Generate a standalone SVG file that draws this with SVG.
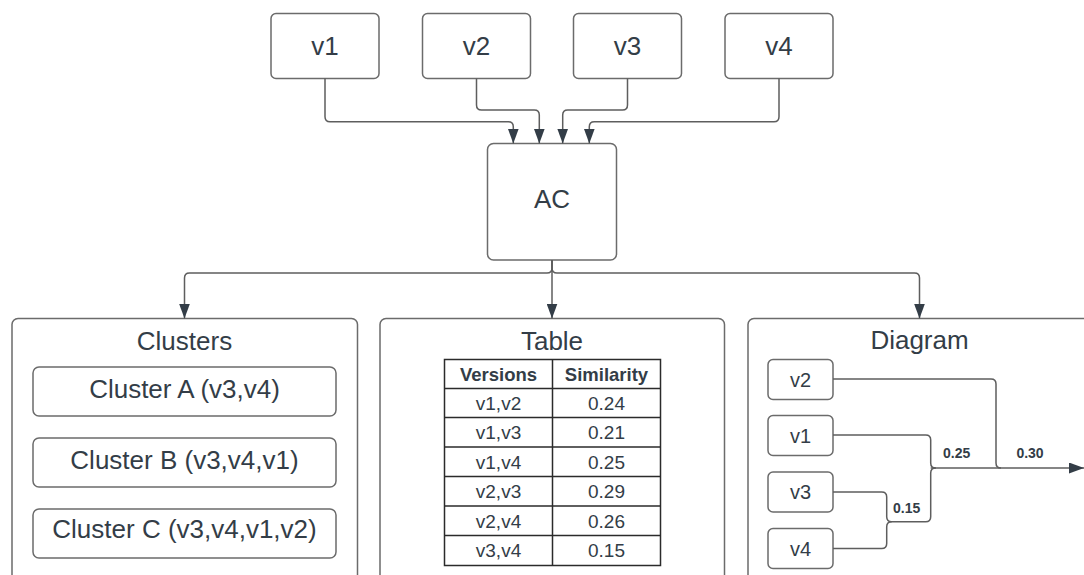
<svg xmlns="http://www.w3.org/2000/svg" width="1084" height="575" viewBox="0 0 1084 575">
  <defs>
    <marker id="arrow" viewBox="0 0 15 11" markerWidth="15" markerHeight="11" refX="15" refY="5.5" orient="auto" markerUnits="userSpaceOnUse">
      <path d="M0,0 L15,5.5 L0,11 Z" fill="#333d47"/>
    </marker>
    <style>
      .box { fill: #ffffff; stroke: #6b6b6b; stroke-width: 1.5; }
      .panel { fill: #ffffff; stroke: #6b6b6b; stroke-width: 1.5; }
      .conn { fill: none; stroke: #5e5e5e; stroke-width: 1.5; }
      .lbl { font-family: "Liberation Sans", Arial, sans-serif; fill: #333d47; text-anchor: middle; }
      .big { font-size: 26px; }
      .mid { font-size: 20px; }
      .cell { font-size: 19px; }
      .head { font-size: 18.5px; font-weight: bold; }
      .tiny { font-size: 14px; font-weight: bold; }
      .grid { fill: none; stroke: #2b2b2b; stroke-width: 1.5; }
    </style>
  </defs>

  <!-- version nodes -->
  <g id="node-v1"><rect class="box" x="271" y="13.5" width="108" height="65" rx="5"/><text class="lbl big" x="325" y="55">v1</text></g>
  <g id="node-v2"><rect class="box" x="422.5" y="13.5" width="108" height="65" rx="5"/><text class="lbl big" x="476.5" y="55">v2</text></g>
  <g id="node-v3"><rect class="box" x="573.5" y="13.5" width="108" height="65" rx="5"/><text class="lbl big" x="627.5" y="55">v3</text></g>
  <g id="node-v4"><rect class="box" x="725" y="13.5" width="108" height="65" rx="5"/><text class="lbl big" x="779" y="55">v4</text></g>

  <!-- AC node -->
  <g id="node-ac"><rect class="box" x="487.5" y="143.5" width="129" height="116.5" rx="6"/><text class="lbl big" x="552" y="207.5">AC</text></g>

  <!-- output panels -->
  <g id="node-clusters">
    <rect class="panel" x="12" y="318.5" width="345.5" height="275" rx="6"/>
    <text class="lbl big" x="184.5" y="349.5">Clusters</text>
    <rect class="box" x="33" y="367" width="303" height="49" rx="6"/>
    <text class="lbl big" x="184.5" y="398">Cluster A (v3,v4)</text>
    <rect class="box" x="33" y="438" width="303" height="49" rx="6"/>
    <text class="lbl big" x="184.5" y="469">Cluster B (v3,v4,v1)</text>
    <rect class="box" x="33" y="509" width="303" height="49" rx="6"/>
    <text class="lbl big" x="184.5" y="538">Cluster C (v3,v4,v1,v2)</text>
  </g>

  <g id="node-table">
    <rect class="panel" x="380" y="318.5" width="344.5" height="275" rx="6"/>
    <text class="lbl big" x="552" y="349.5">Table</text>
    <rect class="grid" x="444.5" y="359.5" width="216" height="206"/>
    <path class="grid" d="M552.5 359.5 V565.5 M444.5 388.5 H660.5 M444.5 417.5 H660.5 M444.5 447 H660.5 M444.5 476.5 H660.5 M444.5 506 H660.5 M444.5 535.5 H660.5"/>
    <text class="lbl head" x="498.5" y="380.5">Versions</text>
    <text class="lbl head" x="606.5" y="380.5">Similarity</text>
    <text class="lbl cell" x="498.5" y="409.5">v1,v2</text><text class="lbl cell" x="606.5" y="409.5">0.24</text>
    <text class="lbl cell" x="498.5" y="439">v1,v3</text><text class="lbl cell" x="606.5" y="439">0.21</text>
    <text class="lbl cell" x="498.5" y="468.5">v1,v4</text><text class="lbl cell" x="606.5" y="468.5">0.25</text>
    <text class="lbl cell" x="498.5" y="498">v2,v3</text><text class="lbl cell" x="606.5" y="498">0.29</text>
    <text class="lbl cell" x="498.5" y="527.5">v2,v4</text><text class="lbl cell" x="606.5" y="527.5">0.26</text>
    <text class="lbl cell" x="498.5" y="557">v3,v4</text><text class="lbl cell" x="606.5" y="557">0.15</text>
  </g>

  <g id="node-diagram">
    <rect class="panel" x="748" y="318.5" width="360" height="275" rx="6"/>
    <text class="lbl big" x="919.5" y="349">Diagram</text>
  </g>

  <!-- dendrogram leaves -->
  <g id="node-d-v2"><rect class="box" x="768" y="359.5" width="65" height="40" rx="5"/><text class="lbl mid" x="800.5" y="386.5">v2</text></g>
  <g id="node-d-v1"><rect class="box" x="768" y="415.5" width="65" height="40" rx="5"/><text class="lbl mid" x="800.5" y="442.5">v1</text></g>
  <g id="node-d-v3"><rect class="box" x="768" y="472" width="65" height="40" rx="5"/><text class="lbl mid" x="800.5" y="499">v3</text></g>
  <g id="node-d-v4"><rect class="box" x="768" y="528.5" width="65" height="40" rx="5"/><text class="lbl mid" x="800.5" y="555.5">v4</text></g>

  <!-- connectors -->
  <g id="connectors">
    <path class="conn" marker-end="url(#arrow)" d="M325 78.5 V116.7 Q325 121.7 330 121.7 H508.3 Q513.3 121.7 513.3 126.7 V143.5"/>
    <path class="conn" marker-end="url(#arrow)" d="M476.5 78.5 V105 Q476.5 110 481.5 110 H534.3 Q539.3 110 539.3 115 V143.5"/>
    <path class="conn" marker-end="url(#arrow)" d="M627.5 78.5 V105 Q627.5 110 622.5 110 H567.7 Q562.7 110 562.7 115 V143.5"/>
    <path class="conn" marker-end="url(#arrow)" d="M779 78.5 V116.7 Q779 121.7 774 121.7 H594.3 Q589.3 121.7 589.3 126.7 V143.5"/>

    <path class="conn" marker-end="url(#arrow)" d="M552 260 V268 Q552 273 547 273 H189.5 Q184.5 273 184.5 278 V318.5"/>
    <path class="conn" marker-end="url(#arrow)" d="M552 260 V318.5" stroke="#333d47"/>
    <path class="conn" marker-end="url(#arrow)" d="M552 260 V268 Q552 273 557 273 H914.5 Q919.5 273 919.5 278 V318.5"/>

    <!-- dendrogram branches -->
    <path class="conn" d="M833 379 H991 Q996 379 996 384 V463 Q996 468 1001 468"/>
    <path class="conn" d="M833 435 H925.7 Q930.7 435 930.7 440 V463 Q930.7 468 935.7 468"/>
    <path class="conn" d="M833 492 H881.7 Q886.7 492 886.7 497 V516.7 Q886.7 521.7 891.7 521.7 H925.7 Q930.7 521.7 930.7 516.7 V473 Q930.7 468 935.7 468"/>
    <path class="conn" d="M833 548.5 H881.7 Q886.7 548.5 886.7 543.5 V526.7 Q886.7 521.7 891.7 521.7"/>
    <path class="conn" marker-end="url(#arrow)" d="M930.7 468 H1084"/>
    <text class="lbl tiny" x="956.7" y="458">0.25</text>
    <text class="lbl tiny" x="1030" y="458">0.30</text>
    <text class="lbl tiny" x="906.7" y="513">0.15</text>
  </g>
</svg>
